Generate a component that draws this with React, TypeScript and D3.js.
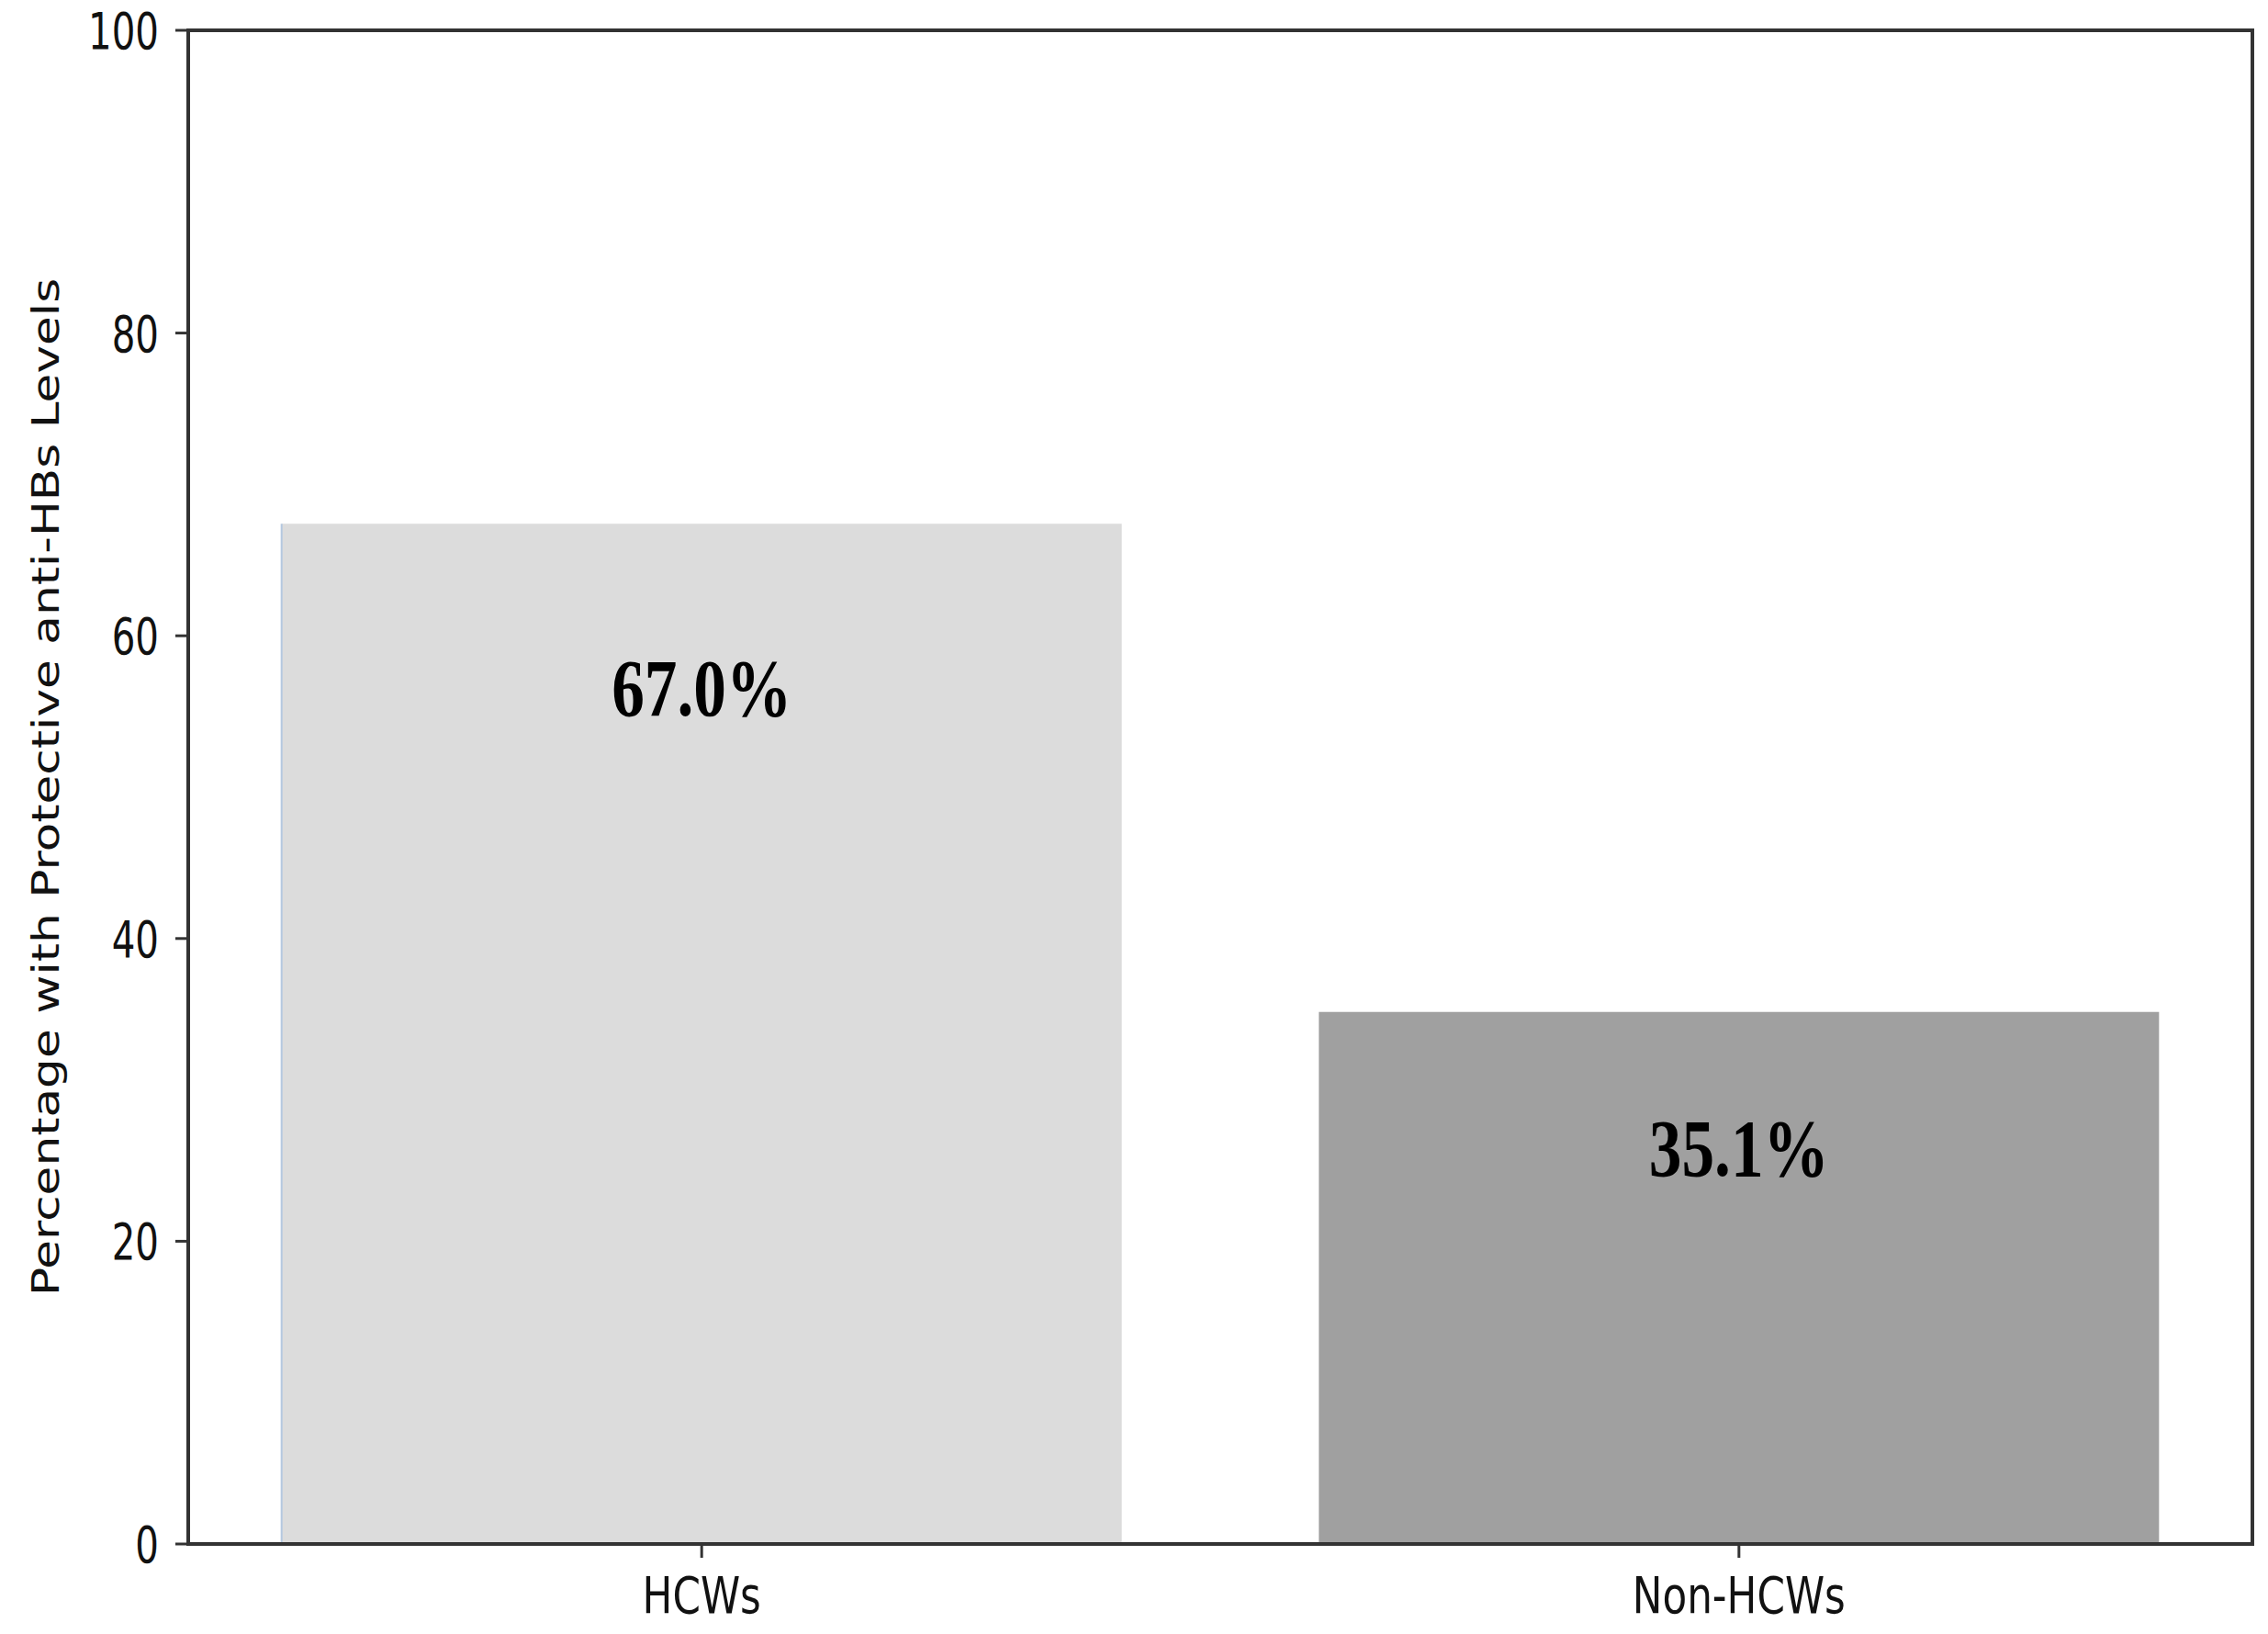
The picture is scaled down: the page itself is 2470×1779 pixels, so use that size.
import { scaleBand, scaleLinear } from "d3";

// data
const groups = ["HCWs", "Non-HCWs"];
const values = [67.4, 35.15];
const valueLabels = ["67.0%", "35.1%"];
const barColors = ["#dcdcdc", "#a0a0a0"];
const yTicks = [0, 20, 40, 60, 80, 100];
const yLabel = "Percentage with Protective anti-HBs Levels";

const W = 2470;
const H = 1779;
const margin = { top: 33, right: 17, bottom: 98, left: 205 };
const sx = 0.72; // picture is squeezed sideways

export default function App() {
    const innerW = W - margin.left - margin.right;
    const innerH = H - margin.top - margin.bottom;

    const x = scaleBand()
        .domain(groups)
        .range([0, innerW])
        .paddingInner(0.19)
        .paddingOuter(0.09);

    const y = scaleLinear().domain([0, 100]).range([innerH, 0]);

    const axisColor = "#333";
    const sans = "'DejaVu Sans', sans-serif";

    // value labels sit a bit lower inside the taller bar
    const labelY = (v: number) => y(v * 0.943 - 7.35) - 6;

    return (
        <svg width={W} height={H} style={{ position: "absolute", left: 0, top: 0, background: "#fff" }}>
            <g transform={`translate(${margin.left}, ${margin.top})`}>
                {/* bars */}
                {groups.map((g, i) => (
                    <rect
                        key={g}
                        x={x(g)}
                        y={y(values[i])}
                        width={x.bandwidth()}
                        height={innerH - y(values[i])}
                        fill={barColors[i]}
                    />
                ))}
                {/* faint blue edge on the first bar */}
                <line
                    x1={x(groups[0])}
                    x2={x(groups[0])}
                    y1={y(values[0])}
                    y2={innerH}
                    stroke="#b4c8e0"
                    strokeWidth={2}
                />

                {/* value labels */}
                {groups.map((g, i) => (
                    <text
                        key={g}
                        transform={`translate(${x(g) + x.bandwidth() / 2}, ${labelY(values[i])}) scale(0.81, 1)`}
                        textAnchor="middle"
                        dy="0.34em"
                        fontFamily="'Liberation Serif', 'Times New Roman', serif"
                        fontWeight="bold"
                        fontSize={88}
                        fill="#000"
                    >
                        {valueLabels[i]}
                    </text>
                ))}

                {/* y ticks */}
                {yTicks.map(t => (
                    <g key={t} transform={`translate(0, ${y(t)})`}>
                        <line x1={-14} x2={0} stroke={axisColor} strokeWidth={3} />
                        <text
                            transform={`translate(-32, 0) scale(${sx}, 1)`}
                            textAnchor="end"
                            dy={20}
                            fontFamily={sans}
                            fontSize={56}
                            fill="#111"
                        >
                            {t}
                        </text>
                    </g>
                ))}

                {/* x ticks */}
                {groups.map(g => (
                    <g key={g} transform={`translate(${x(g) + x.bandwidth() / 2}, ${innerH})`}>
                        <line y1={0} y2={15} stroke={axisColor} strokeWidth={3} />
                        <text
                            transform={`translate(0, 75) scale(0.78, 1)`}
                            textAnchor="middle"
                            fontFamily={sans}
                            fontSize={56}
                            fill="#111"
                        >
                            {g}
                        </text>
                    </g>
                ))}

                {/* frame */}
                <rect
                    x={0}
                    y={0}
                    width={innerW}
                    height={innerH}
                    fill="none"
                    stroke={axisColor}
                    strokeWidth={4}
                />

                {/* y axis title */}
                <text
                    transform={`translate(${64 - margin.left}, ${innerH / 2}) scale(0.78, 1) rotate(-90)`}
                    textAnchor="middle"
                    fontFamily={sans}
                    fontSize={51.7}
                    fill="#111"
                >
                    {yLabel}
                </text>
            </g>
        </svg>
    );
}
